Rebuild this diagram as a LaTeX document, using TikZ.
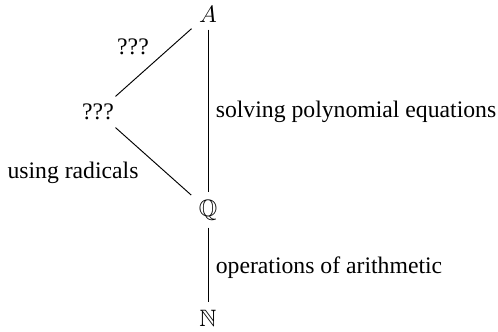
\documentclass[tikz,border=0pt]{standalone}
\usepackage{amsmath,amssymb}
\usepackage{fontspec}
\setmainfont{Liberation Serif}
\usepackage{tikz}
\usetikzlibrary{positioning}

\begin{document}
\begin{tikzpicture}[x=0.422pt,y=-0.422pt,
  n/.style={inner sep=3pt,font=\normalsize},
  lab/.style={font=\normalsize,inner sep=1pt}]
 \useasboundingbox (0,0) rectangle (498,331);
 \node[n] (A) at (208,14) {$A$};
 \node[n] (R) at (98,112) {???};
 \node[n] (Q) at (208,210) {$\mathbb{Q}$};
 \node[n] (N) at (208,318) {$\mathbb{N}$};
 \draw (A)--(R); \draw (R)--(Q);
 \draw (A)--(Q); \draw (Q)--(N);
 \node[lab] (l1) at (133,47) {???};
 \node[lab,anchor=west] (l2) at (213,112) {solving polynomial equations};
 \node[lab] (l3) at (73,173) {using radicals};
 \node[lab,anchor=west] (l4) at (213,268) {operations of arithmetic};
\end{tikzpicture}
\end{document}
